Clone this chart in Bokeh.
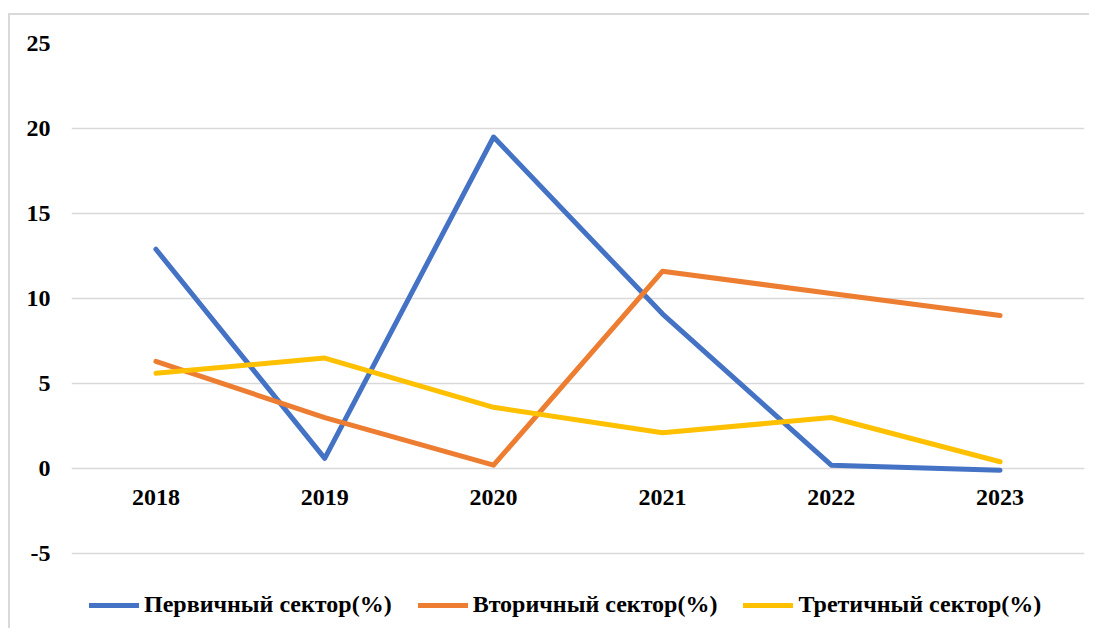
from bokeh.plotting import figure
from bokeh.layouts import column, row
from bokeh.models import FactorRange, Range1d, FixedTicker, Legend, LegendItem, Spacer
from bokeh.embed import file_html
from bokeh.resources import INLINE

years = ["2018", "2019", "2020", "2021", "2022", "2023"]
primary = [12.9, 0.6, 19.5, 9.1, 0.2, -0.1]
secondary = [6.3, 3.0, 0.2, 11.6, 10.3, 9.0]
tertiary = [5.6, 6.5, 3.6, 2.1, 3.0, 0.4]
series_names = ["Первичный сектор(%)", "Вторичный сектор(%)", "Третичный сектор(%)"]
y_ticks = [-5, 0, 5, 10, 15, 20, 25]
y_tick_labels = {t: str(t) for t in y_ticks}

colors = ["#4472C4", "#ED7D31", "#FFC000"]
FONT = "Liberation Serif"
FS = "24px"
W, H = 1081, 615

p = figure(
    x_range=FactorRange(factors=years),
    y_range=Range1d(-8.82, 25),
    width=W, height=H,
    output_backend="svg", toolbar_location=None,
    min_border_left=61, min_border_right=7, min_border_top=28, min_border_bottom=12,
)
p.styles = {"border-left": "2px solid #d9d9d9", "border-top": "2px solid #d9d9d9"}
p.outline_line_color = None
p.background_fill_color = "white"
p.border_fill_color = "white"

# grid
p.xgrid.grid_line_color = None
p.ygrid.grid_line_color = "#d9d9d9"
p.ygrid.grid_line_width = 1.5
p.yaxis.ticker = FixedTicker(ticks=y_ticks)
p.yaxis.major_label_overrides = y_tick_labels

# y axis
p.yaxis.axis_line_color = None
p.yaxis.major_tick_line_color = None
p.yaxis.minor_tick_line_color = None
p.yaxis.major_tick_out = 0
p.yaxis.major_label_standoff = 21
p.yaxis.major_label_text_font = FONT
p.yaxis.major_label_text_font_style = "bold"
p.yaxis.major_label_text_font_size = FS
p.yaxis.major_label_text_color = "black"

# x axis at y = 0
p.xaxis.fixed_location = 0
p.xaxis.axis_line_color = None
p.xaxis.major_tick_line_color = None
p.xaxis.minor_tick_line_color = None
p.xaxis.major_tick_out = 0
p.xaxis.major_label_standoff = 21
p.xaxis.major_label_text_font = FONT
p.xaxis.major_label_text_font_style = "bold"
p.xaxis.major_label_text_font_size = FS
p.xaxis.major_label_text_color = "black"

items = []
for vals, name, c in zip([primary, secondary, tertiary], series_names, colors):
    r = p.line(years, vals, line_color=c, line_width=5, line_cap="round", line_join="round")
    items.append(LegendItem(label=name, renderers=[r]))

legend = Legend(
    items=items, orientation="horizontal", location=(18, 0),
    glyph_width=50, glyph_height=20, label_standoff=5, spacing=26,
    padding=0, margin=0, border_line_color=None, background_fill_alpha=0,
    label_text_font=FONT, label_text_font_style="bold", label_text_font_size=FS,
    label_text_color="black",
)
p.add_layout(legend, "center")

layout = row(Spacer(width=8, height=10), column(Spacer(width=10, height=13), p, spacing=0), spacing=0)
open("out.html", "w").write(file_html(layout, INLINE))
